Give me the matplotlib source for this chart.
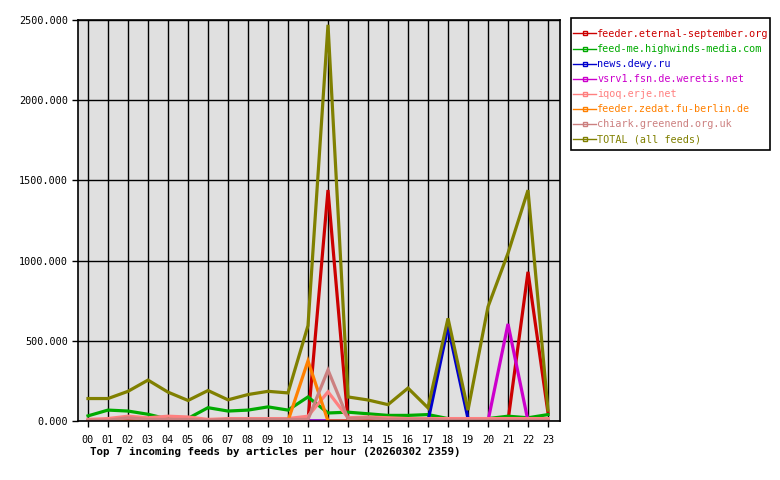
import matplotlib
matplotlib.use('Agg')
import matplotlib.pyplot as plt
from matplotlib.lines import Line2D
from matplotlib.patches import Rectangle
from matplotlib.ticker import FuncFormatter

# Hourly article counts
hours = ['%02d' % h for h in range(24)]

feed_names = [
    'feeder.eternal-september.org',
    'feed-me.highwinds-media.com',
    'news.dewy.ru',
    'vsrv1.fsn.de.weretis.net',
    'iqoq.erje.net',
    'feeder.zedat.fu-berlin.de',
    'chiark.greenend.org.uk',
    'TOTAL (all feeds)',
]
feed_colors = ['#cc0000', '#00aa00', '#0000cc', '#cc00cc',
               '#ff8080', '#ff8000', '#cc8080', '#808000']

eternal_september = [0, 0, 0, 0, 0, 0, 0, 0, 0, 0, 0, 0,
                     1440, 0, 0, 0, 0, 0, 0, 0, 0, 0, 930, 50]
highwinds = [32, 68, 62, 42, 12, 16, 83, 62, 68, 88, 68, 150,
             50, 55, 45, 35, 35, 40, 15, 15, 15, 30, 20, 40]
dewy = [0, 0, 0, 0, 0, 0, 0, 0, 0, 0, 0, 0,
        0, 0, 0, 0, 0, 0, 590, 15, 0, 0, 0, 0]
weretis = [0, 0, 0, 0, 0, 0, 0, 0, 0, 0, 0, 0,
           0, 0, 0, 0, 0, 0, 0, 0, 0, 605, 0, 0]
iqoq = [10, 15, 30, 20, 30, 25, 10, 15, 15, 15, 15, 30,
        182, 20, 25, 20, 15, 15, 15, 15, 15, 15, 15, 15]
zedat = [0, 0, 0, 0, 0, 0, 0, 0, 0, 0, 0, 375,
         0, 0, 0, 0, 0, 0, 0, 0, 0, 0, 0, 0]
chiark = [5, 5, 20, 10, 10, 10, 5, 10, 10, 10, 10, 10,
          318, 15, 20, 10, 10, 10, 5, 5, 5, 5, 5, 5]
total = [140, 140, 185, 255, 180, 128, 190, 132, 165, 185, 175, 595,
         2470, 150, 131, 102, 205, 82, 640, 68, 712, 1046, 1439, 68]

series = [eternal_september, highwinds, dewy, weretis, iqoq, zedat, chiark, total]

plt.rcParams['font.family'] = 'DejaVu Sans Mono'

fig = plt.figure(figsize=(7.8, 4.8), dpi=100)
ax = fig.add_axes([78 / 780, 1 - 421 / 480, (560 - 78) / 780, (421 - 20) / 480])
ax.set_facecolor('#e0e0e0')

x = list(range(len(hours)))
for values, color in zip(series, feed_colors):
    ax.plot(x, values, color=color, lw=2.3, solid_joinstyle='miter')

ax.set_xlim(-0.5, 23.6)
ax.set_ylim(0, 2500)
ax.set_xticks(x)
ax.set_xticklabels(hours)
ax.set_yticks(range(0, 2501, 500))
ax.yaxis.set_major_formatter(FuncFormatter(lambda v, p: '%.3f' % v))
ax.tick_params(labelsize=7.3, length=4, width=1, color='black', pad=3)
ax.tick_params(axis='x', pad=6)
ax.grid(True, color='black', lw=1)
ax.set_axisbelow(True)
for sp in ax.spines.values():
    sp.set_color('black')
    sp.set_linewidth(1.2)

fig.text(90 / 780, 1 - 452 / 480,
         'Top 7 incoming feeds by articles per hour (20260302 2359)',
         fontsize=7.8, fontweight='bold', va='center', ha='left')

# legend box drawn separately so the padding can match the reference
fig.patches.append(Rectangle((571 / 780, 1 - 150 / 480), 199 / 780, 132 / 480,
                             transform=fig.transFigure, fill=False,
                             ec='black', lw=1.2))
handles = [Line2D([], [], color=c, lw=1, marker='s', ms=3, mfc='none', mew=1)
           for c in feed_colors]
leg = fig.legend(handles, feed_names, loc='upper left',
                 bbox_to_anchor=(573 / 780, 1 - 29 / 480),
                 frameon=False, fontsize=7.3, handlelength=2.3,
                 handletextpad=0.1, labelspacing=0.5, borderpad=0,
                 borderaxespad=0, numpoints=1)
for txt, c in zip(leg.get_texts(), feed_colors):
    txt.set_color(c)

fig.savefig('out.png', dpi=100)
